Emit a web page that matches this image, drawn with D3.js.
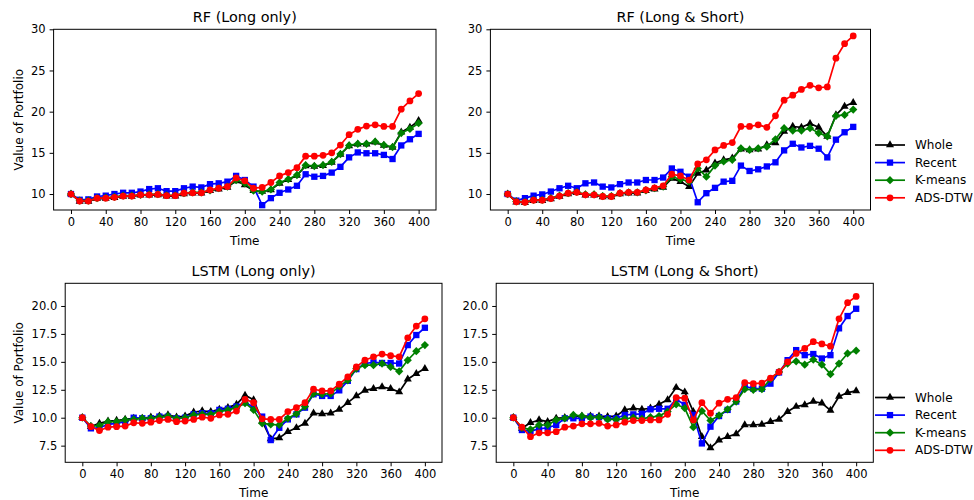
<!DOCTYPE html>
<html>
<head>
<meta charset="utf-8">
<script src="https://cdn.jsdelivr.net/npm/d3@7"></script>
<style>
  body { margin: 0; background: #fff; }
  text { font-family: "DejaVu Sans", sans-serif; fill: #000; }
</style>
</head>
<body>
<div id="mydataviz"></div>
<script>
// time steps on the x axis
var times = [0, 10, 20, 30, 40, 50, 60, 70, 80, 90, 100, 110, 120, 130, 140, 150, 160, 170, 180, 190,
             200, 210, 220, 230, 240, 250, 260, 270, 280, 290, 300, 310, 320, 330, 340, 350, 360, 370, 380, 390, 400];

var seriesNames = ["Whole", "Recent", "K-means", "ADS-DTW"];
var xTicks = [0, 40, 80, 120, 160, 200, 240, 280, 320, 360, 400];
var rfTicks = [10, 15, 20, 25, 30];
var lstmTicks = [7.5, 10.0, 12.5, 15.0, 17.5, 20.0];

// RF (Long only)
var rfLongWhole = [10, 9.1, 9.1, 9.45, 9.45, 9.55, 9.7, 9.7, 9.85, 9.85, 9.9, 9.75, 9.75, 10.0, 10.1, 10.1, 10.4, 10.6, 10.8, 11.6,
  11.1, 10.4, 10.3, 10.5, 11.3, 11.75, 12.25, 13.4, 13.35, 13.45, 13.85, 14.8, 15.85, 16.05, 16.05, 16.3, 15.9, 15.65, 17.5, 18.1, 18.9];
var rfLongRecent = [10, 9.3, 9.35, 9.7, 9.8, 10.0, 10.15, 10.15, 10.3, 10.6, 10.7, 10.35, 10.35, 10.7, 10.9, 10.8, 11.2, 11.3, 11.5, 12.2,
  11.7, 10.9, 8.65, 9.5, 10.15, 10.55, 11.0, 12.4, 12.1, 12.2, 12.6, 13.3, 14.45, 15.05, 14.95, 14.95, 14.75, 14.25, 15.9, 16.65, 17.3];
var rfLongKmeans = [10, 9.2, 9.2, 9.5, 9.55, 9.65, 9.8, 9.8, 9.9, 9.95, 10.0, 9.85, 9.85, 10.1, 10.2, 10.2, 10.45, 10.7, 10.9, 11.7,
  11.3, 10.4, 10.3, 10.55, 11.4, 11.8, 12.3, 13.5, 13.4, 13.5, 13.9, 14.85, 15.9, 16.1, 16.1, 16.35, 15.95, 15.7, 17.4, 17.9, 18.6];
var rfLongAds = [10, 9.15, 9.15, 9.5, 9.5, 9.6, 9.75, 9.75, 9.9, 9.9, 9.95, 9.8, 9.8, 10.1, 10.15, 10.15, 10.5, 10.7, 10.9, 11.95,
  11.6, 10.7, 10.8, 11.4, 12.2, 12.6, 13.2, 14.6, 14.6, 14.7, 15.0, 15.95, 17.2, 17.85, 18.25, 18.4, 18.2, 18.2, 20.3, 21.3, 22.2];

// RF (Long & Short)
var rfShortWhole = [10, 9.0, 8.95, 9.2, 9.2, 9.4, 9.7, 10.0, 10.15, 9.85, 9.85, 9.65, 9.65, 10.0, 10.1, 10.1, 10.4, 10.6, 10.8, 11.9,
  11.5, 10.9, 12.5, 12.9, 13.75, 14.15, 14.35, 15.45, 15.35, 15.45, 15.95, 16.2, 17.6, 18.2, 18.1, 18.55, 18.1, 17.0, 19.6, 20.65, 21.1];
var rfShortRecent = [10, 9.2, 9.5, 9.8, 9.95, 10.3, 10.7, 11.0, 10.7, 11.3, 11.4, 10.9, 10.8, 11.2, 11.4, 11.4, 11.7, 11.7, 12.0, 13.1,
  12.7, 12.1, 9.0, 10.1, 10.75, 11.5, 11.6, 13.45, 12.8, 13.0, 13.35, 13.85, 15.3, 16.1, 15.65, 15.85, 15.5, 14.45, 16.6, 17.5, 18.15];
var rfShortKmeans = [10, 9.1, 9.05, 9.3, 9.3, 9.5, 9.8, 10.1, 10.25, 9.95, 9.95, 9.75, 9.75, 10.1, 10.2, 10.2, 10.45, 10.7, 10.9, 12.1,
  11.8, 11.5, 13.1, 12.1, 13.45, 13.95, 14.15, 15.55, 15.35, 15.55, 15.75, 16.65, 18.0, 17.7, 17.7, 18.0, 17.4, 17.0, 19.5, 19.6, 20.25];
var rfShortAds = [10, 9.05, 9.0, 9.25, 9.25, 9.45, 9.75, 10.1, 10.2, 9.9, 9.9, 9.7, 9.7, 10.1, 10.2, 10.2, 10.5, 10.75, 11.0, 12.4,
  12.2, 11.7, 13.65, 14.15, 15.35, 15.9, 16.25, 18.2, 18.2, 18.4, 18.1, 19.5, 21.4, 22.0, 22.7, 23.2, 22.9, 23.0, 26.5, 28.25, 29.2];

// LSTM (Long only)
var lstmLongWhole = [10, 9.2, 9.5, 9.7, 9.75, 9.85, 9.95, 9.95, 10.05, 10.15, 10.25, 10.05, 10.15, 10.5, 10.6, 10.55, 10.75, 10.9, 11.2,
  12.0, 11.6, 9.7, 8.1, 8.2, 8.75, 9.1, 9.5, 10.4, 10.35, 10.4, 10.75, 11.35, 11.95, 12.45, 12.6, 12.75, 12.6, 12.3, 13.45, 13.95, 14.4];
var lstmLongRecent = [10, 9.05, 9.1, 9.4, 9.5, 9.65, 10.0, 9.95, 9.95, 10.1, 10.1, 9.95, 10.0, 10.3, 10.4, 10.4, 10.7, 10.8, 11.0,
  11.4, 10.9, 10.1, 8.0, 9.1, 9.85, 10.3, 10.9, 12.1, 11.95, 11.95, 12.45, 13.3, 14.35, 14.85, 14.95, 14.9, 14.9, 14.85, 16.5, 17.4, 18.05];
var lstmLongKmeans = [10, 9.25, 9.3, 9.65, 9.65, 9.8, 9.85, 9.95, 9.95, 10.05, 10.15, 9.95, 10.0, 10.25, 10.3, 10.3, 10.55, 10.7, 10.9,
  11.3, 10.7, 9.5, 9.4, 9.35, 9.95, 10.35, 11.0, 12.15, 12.1, 12.15, 12.8, 13.35, 14.4, 14.7, 14.7, 14.85, 14.55, 14.15, 15.15, 15.95, 16.5];
var lstmLongAds = [10, 9.2, 8.85, 9.15, 9.2, 9.25, 9.55, 9.5, 9.6, 9.75, 9.85, 9.65, 9.7, 9.85, 10.05, 9.95, 10.25, 10.3, 10.6,
  11.65, 11.35, 9.9, 9.85, 9.85, 10.55, 10.9, 11.35, 12.55, 12.4, 12.4, 13.0, 13.65, 14.55, 15.15, 15.45, 15.7, 15.55, 15.45, 17.15, 18.2, 18.85];

// LSTM (Long & Short)
var lstmShortWhole = [10, 9.05, 9.55, 9.8, 9.65, 9.95, 10.0, 10.1, 10.15, 10.15, 10.15, 10.1, 10.15, 10.7, 10.85, 10.75, 10.85, 11.2, 11.6, 12.7,
  12.3, 10.55, 8.3, 7.3, 8.0, 8.3, 8.55, 9.35, 9.35, 9.4, 9.65, 9.85, 10.55, 11.0, 11.15, 11.45, 11.3, 10.65, 11.9, 12.25, 12.4];
var lstmShortRecent = [10, 8.9, 8.8, 9.0, 9.1, 9.35, 9.95, 9.95, 9.95, 10.1, 10.05, 9.95, 9.95, 10.25, 10.3, 10.35, 10.75, 10.8, 10.8, 11.65,
  11.15, 10.25, 7.7, 9.2, 10.15, 10.7, 11.45, 12.8, 12.6, 12.6, 13.05, 14.05, 15.15, 16.05, 15.6, 15.7, 15.3, 15.6, 18.0, 19.1, 19.75];
var lstmShortKmeans = [10, 9.1, 8.95, 9.35, 9.35, 9.8, 9.95, 10.25, 10.15, 10.0, 10.05, 9.85, 9.85, 9.9, 10.0, 9.9, 10.05, 10.15, 10.55, 11.2,
  10.85, 9.15, 10.6, 9.75, 10.2, 10.75, 11.45, 12.55, 12.5, 12.55, 13.45, 14.1, 14.85, 15.05, 14.75, 15.2, 14.75, 13.9, 14.85, 15.75, 16.0];
var lstmShortAds = [10, 9.15, 8.3, 8.65, 8.65, 8.75, 9.15, 9.25, 9.45, 9.45, 9.5, 9.25, 9.35, 9.6, 9.75, 9.75, 9.8, 9.8, 10.3, 11.8,
  11.75, 9.8, 11.35, 10.4, 11.3, 11.65, 11.8, 13.15, 13.05, 13.1, 13.55, 14.1, 15.0, 15.75, 16.2, 16.8, 16.6, 16.4, 18.85, 20.3, 20.85];

// look of each series: color + marker
var colors = ["#000000", "#0000ff", "#008000", "#ff0000"];
var symbols = [d3.symbolTriangle, d3.symbolSquare, d3.symbolDiamond, d3.symbolCircle];
var symbolSizes = [28, 40, 40, 36];

var svg = d3.select("#mydataviz")
  .append("svg")
    .attr("width", 974)
    .attr("height", 500)
    .style("background", "#fff");

function diamond(size) {
  // matplotlib "D" is a square turned 45deg
  var r = Math.sqrt(size) / 2 * 1.3;
  return "M0," + (-r) + "L" + r + ",0L0," + r + "L" + (-r) + ",0Z";
}

function marker(i) {
  if (i == 2) return diamond(symbolSizes[i]);
  return d3.symbol().type(symbols[i]).size(symbolSizes[i])();
}

function drawPanel(p) {
  var x = d3.scaleLinear().domain([-20, 420]).range([p.left, p.right]);
  var y = d3.scaleLinear().domain(p.yDomain).range([p.bottom, p.top]);

  var g = svg.append("g");

  // series
  p.series.forEach(function(vals, i) {
    var data = times.map(function(t, k) { return {t: t, v: vals[k]}; });
    var line = d3.line()
      .x(function(d) { return x(d.t); })
      .y(function(d) { return y(d.v); });
    g.append("path")
      .datum(data)
      .attr("d", line)
      .attr("fill", "none")
      .attr("stroke", colors[i])
      .attr("stroke-width", 1.7)
      .attr("stroke-linejoin", "round");
    g.selectAll("mark" + i)
      .data(data)
      .enter()
      .append("path")
        .attr("transform", function(d) { return "translate(" + x(d.t) + "," + y(d.v) + ")"; })
        .attr("d", marker(i))
        .attr("fill", colors[i]);
  });

  // frame
  g.append("rect")
    .attr("x", p.left).attr("y", p.top)
    .attr("width", p.right - p.left).attr("height", p.bottom - p.top)
    .attr("fill", "none").attr("stroke", "#000").attr("stroke-width", 1);

  // axes
  var xAxis = g.append("g")
    .attr("transform", "translate(0," + p.bottom + ")")
    .call(d3.axisBottom(x).tickValues(xTicks).tickSize(4).tickPadding(4));
  var yAxis = g.append("g")
    .attr("transform", "translate(" + p.left + ",0)")
    .call(d3.axisLeft(y).tickValues(p.yTicks).tickSize(4).tickPadding(4)
      .tickFormat(p.yFormat));
  [xAxis, yAxis].forEach(function(a) {
    a.select(".domain").remove();
    a.selectAll("line").attr("stroke", "#000");
    a.selectAll("text")
      .style("font-family", "DejaVu Sans")
      .style("font-size", "11.5px")
      .attr("fill", "#000");
  });

  // title and labels
  g.append("text")
    .attr("x", (p.left + p.right) / 2)
    .attr("y", p.top - 7)
    .attr("text-anchor", "middle")
    .style("font-size", "14.4px")
    .text(p.title);
  g.append("text")
    .attr("x", (p.left + p.right) / 2)
    .attr("y", p.bottom + 35)
    .attr("text-anchor", "middle")
    .style("font-size", "12px")
    .text("Time");
  if (p.ylabel) {
    g.append("text")
      .attr("transform", "translate(" + p.ylabelX + "," + ((p.top + p.bottom) / 2) + ")rotate(-90)")
      .attr("text-anchor", "middle")
      .attr("dominant-baseline", "central")
      .style("font-size", "12px")
      .text("Value of Portfolio");
  }

  // legend
  if (p.legendY) {
    seriesNames.forEach(function(name, i) {
      var ly = p.legendY + i * 17.6;
      g.append("line")
        .attr("x1", 875).attr("x2", 905)
        .attr("y1", ly).attr("y2", ly)
        .attr("stroke", colors[i]).attr("stroke-width", 1.7);
      g.append("path")
        .attr("transform", "translate(890," + ly + ")")
        .attr("d", marker(i))
        .attr("fill", colors[i]);
      g.append("text")
        .attr("x", 915).attr("y", ly)
        .attr("dominant-baseline", "central")
        .style("font-size", "12px")
        .text(name);
    });
  }
}

var rfFormat = d3.format("d");
var lstmFormat = d3.format(".1f");

drawPanel({title: "RF (Long only)", left: 53.6, right: 436, top: 29.3, bottom: 210,
  yDomain: [8.06, 30], yTicks: rfTicks, yFormat: rfFormat, ylabel: true, ylabelX: 19,
  series: [rfLongWhole, rfLongRecent, rfLongKmeans, rfLongAds]});
drawPanel({title: "RF (Long & Short)", left: 490.4, right: 870.5, top: 29.3, bottom: 210,
  yDomain: [8.06, 30], yTicks: rfTicks, yFormat: rfFormat, legendY: 145,
  series: [rfShortWhole, rfShortRecent, rfShortKmeans, rfShortAds]});
drawPanel({title: "LSTM (Long only)", left: 65.2, right: 442, top: 283.3, bottom: 462.3,
  yDomain: [6.01, 22.03], yTicks: lstmTicks, yFormat: lstmFormat, ylabel: true, ylabelX: 18.5,
  series: [lstmLongWhole, lstmLongRecent, lstmLongKmeans, lstmLongAds]});
drawPanel({title: "LSTM (Long & Short)", left: 496.2, right: 873.3, top: 283.3, bottom: 462.3,
  yDomain: [6.01, 22.03], yTicks: lstmTicks, yFormat: lstmFormat, legendY: 397.5,
  series: [lstmShortWhole, lstmShortRecent, lstmShortKmeans, lstmShortAds]});
</script>
</body>
</html>
